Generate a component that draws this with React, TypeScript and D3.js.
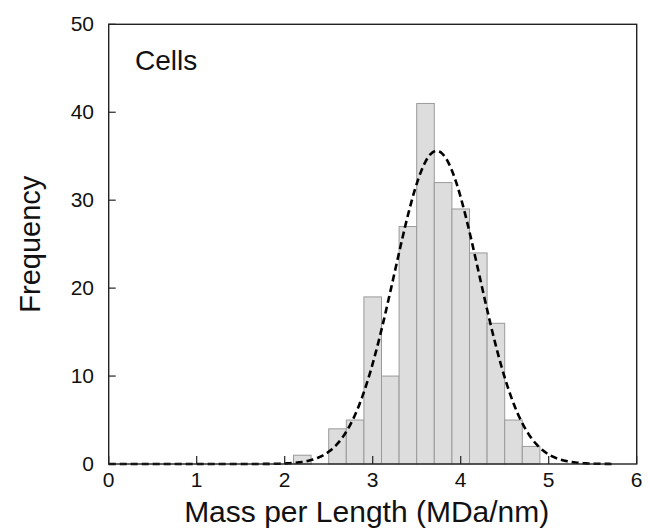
import React from "react";
import * as d3 from "d3";

// ---- Data ----
const binStarts = [2.1, 2.3, 2.5, 2.7, 2.9, 3.1, 3.3, 3.5, 3.7, 3.9, 4.1, 4.3, 4.5, 4.7];
const counts = [1, 0, 4, 5, 19, 10, 27, 41, 32, 29, 24, 16, 5, 2];
const binWidth = 0.2;
const xTicks = [0, 1, 2, 3, 4, 5, 6];
const yTicks = [0, 10, 20, 30, 40, 50];
// Gaussian fit parameters
const fitMean = 3.727;
const fitSigma = 0.482;
const fitPeak = 35.6;
const fitRange = [0, 5.72];
const panelLabel = "Cells";
const xLabel = "Mass per Length (MDa/nm)";
const yLabel = "Frequency";

const W = 651;
const H = 529;
const M = { left: 108.7, right: 636.7, top: 24.3, bottom: 464 };
const FONT = "'Liberation Sans', Arial, Helvetica, sans-serif";

export default function App() {
  const x = d3.scaleLinear().domain([0, 6]).range([M.left, M.right]);
  const y = d3.scaleLinear().domain([0, 50]).range([M.bottom, M.top]);

  const fitXs = d3.range(fitRange[0], fitRange[1] + 1e-9, 0.01);
  const fitPts: [number, number][] = fitXs.map((v) => [
    v,
    fitPeak * Math.exp(-((v - fitMean) ** 2) / (2 * fitSigma * fitSigma)),
  ]);
  const line = d3
    .line<[number, number]>()
    .x((d) => x(d[0]))
    .y((d) => y(d[1]));

  return (
    <svg
      width={W}
      height={H}
      style={{ position: "absolute", left: 0, top: 0, background: "#fff" }}
      fontFamily={FONT}
    >
      <rect x={0} y={0} width={W} height={H} fill="#fff" />
      {/* bars */}
      {binStarts.map((b, i) =>
        counts[i] > 0 ? (
          <rect
            key={i}
            x={x(b)}
            y={y(counts[i])}
            width={x(b + binWidth) - x(b)}
            height={y(0) - y(counts[i])}
            fill="#dcdddc"
            stroke="#9a9a9a"
            strokeWidth={1}
          />
        ) : null
      )}
      {/* ticks */}
      {xTicks.map((t) => (
        <g key={"xt" + t}>
          <line x1={x(t)} x2={x(t)} y1={M.bottom} y2={M.bottom - 8} stroke="#222" strokeWidth={1.2} />
          <text
            x={x(t)}
            y={487}
            textAnchor="middle"
            fontSize={21}
            fill="#111"
          >
            {t}
          </text>
        </g>
      ))}
      {yTicks.map((t) => (
        <g key={"yt" + t}>
          <line x1={M.left} x2={M.left + 7} y1={y(t)} y2={y(t)} stroke="#222" strokeWidth={1.2} />
          <text
            x={94}
            y={y(t) - 1}
            textAnchor="end"
            dominantBaseline="central"
            fontSize={21}
            fill="#111"
          >
            {t}
          </text>
        </g>
      ))}
      {/* fit curve */}
      <path
        d={line(fitPts) || ""}
        fill="none"
        stroke="#000"
        strokeWidth={2.6}
        strokeDasharray="7,4"
      />
      {/* frame */}
      <rect
        x={M.left}
        y={M.top}
        width={M.right - M.left}
        height={M.bottom - M.top}
        fill="none"
        stroke="#222"
        strokeWidth={1.4}
      />
      {/* labels */}
      <text x={135} y={70} fontSize={28} fill="#111">
        {panelLabel}
      </text>
      <text
        x={(M.left + M.right) / 2 - 6}
        y={522}
        textAnchor="middle"
        fontSize={30}
        fill="#111"
      >
        {xLabel}
      </text>
      <text
        transform={`translate(40, ${(M.top + M.bottom) / 2}) rotate(-90)`}
        textAnchor="middle"
        fontSize={29}
        fill="#111"
      >
        {yLabel}
      </text>
    </svg>
  );
}
